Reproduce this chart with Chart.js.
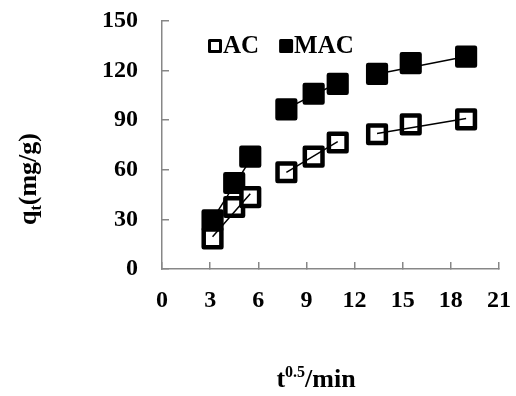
<!DOCTYPE html>
<html>
<head>
<meta charset="utf-8">
<script src="https://cdn.jsdelivr.net/npm/chart.js"></script>
<style>
  body { margin: 0; background: #fff; }
  #wrap { width: 516px; height: 396px; }
</style>
</head>
<body>
<div id="wrap"><canvas id="myChart" width="516" height="396"></canvas></div>
<script>
// data
const timeX = [3.15, 4.5, 5.5, 7.75, 9.45, 10.95, 13.4, 15.5, 18.95];
const acY = [18.5, 37.5, 43.5, 58.5, 68, 76.5, 81.5, 87.5, 90.5];
const macY = [29.5, 52, 68, 96.5, 106, 112, 118, 124.5, 128.5];

// fit line segments (null = break between segments)
const acFitX = [3.15, 5.5, null, 7.75, 10.95, null, 13.4, 18.95];
const acFitY = [19.5, 45.5, null, 58.5, 77, null, 82, 91];
const macFitX = [3.15, 5.5, null, 7.75, 10.95, null, 13.4, 18.95];
const macFitY = [30, 66, null, 97, 112.5, null, 118, 128.5];

const xTicks = [0, 3, 6, 9, 12, 15, 18, 21];
const yTicks = [0, 30, 60, 90, 120, 150];

const serif = "'Times New Roman', 'Liberation Serif', serif";
const axisGray = "#878787";

function toPoints(xs, ys) {
  return xs.map((x, i) => ({ x: x === null ? NaN : x, y: ys[i] }));
}

// legend drawn inside the plot, top-left
const innerLegend = {
  id: "innerLegend",
  afterDatasetsDraw(chart) {
    const ctx = chart.ctx;
    const area = chart.chartArea;
    const items = chart.data.datasets.filter(d => d.showInLegend);
    let x = area.left + 46;
    const y = area.top + 18;
    ctx.save();
    ctx.font = "bold 25px " + serif;
    ctx.textBaseline = "alphabetic";
    ctx.lineJoin = "round";
    items.forEach(d => {
      ctx.fillStyle = d.pointBackgroundColor;
      ctx.strokeStyle = "#000";
      ctx.lineWidth = 3;
      ctx.fillRect(x + 1.5, y + 1.5, 11, 11);
      ctx.strokeRect(x + 1.5, y + 1.5, 11, 11);
      ctx.fillStyle = "#000";
      ctx.fillText(d.label, x + 15, y + 14);
      x += 15 + ctx.measureText(d.label).width + 20;
    });
    ctx.restore();
  }
};

// axis titles with sub/superscript
const axisTitles = {
  id: "axisTitles",
  beforeDatasetsDraw(chart) {
    chart.ctx.lineJoin = "round";
  },
  afterDraw(chart) {
    const ctx = chart.ctx;
    ctx.save();
    ctx.fillStyle = "#000";
    ctx.textBaseline = "alphabetic";

    // x title: t^0.5/min
    const big = "bold 26px " + serif;
    const small = "bold 16px " + serif;
    ctx.font = big;
    const wT = ctx.measureText("t").width;
    const wRest = ctx.measureText("/min").width;
    ctx.font = small;
    const wSup = ctx.measureText("0.5").width;
    let x = 316 - (wT + wSup + wRest) / 2;
    const y = 387;
    ctx.font = big; ctx.fillText("t", x, y); x += wT;
    ctx.font = small; ctx.fillText("0.5", x, y - 10); x += wSup;
    ctx.font = big; ctx.fillText("/min", x, y);

    // y title: q_t(mg/g)
    ctx.translate(36, 179);
    ctx.rotate(-Math.PI / 2);
    ctx.font = big;
    const wq = ctx.measureText("q").width;
    const wr = ctx.measureText("(mg/g)").width;
    ctx.font = small;
    const ws = ctx.measureText("t").width;
    let tx = -(wq + ws + wr) / 2;
    ctx.font = big; ctx.fillText("q", tx, 0); tx += wq;
    ctx.font = small; ctx.fillText("t", tx, 5); tx += ws;
    ctx.font = big; ctx.fillText("(mg/g)", tx, 0);
    ctx.restore();
  }
};

const ctx = document.getElementById("myChart");
const myChart = new Chart(ctx, {
  type: "scatter",
  data: {
    datasets: [
      {
        label: "AC fit",
        data: toPoints(acFitX, acFitY),
        showLine: true,
        spanGaps: false,
        borderColor: "#000",
        borderWidth: 1.5,
        pointRadius: 0
      },
      {
        label: "MAC fit",
        data: toPoints(macFitX, macFitY),
        showLine: true,
        spanGaps: false,
        borderColor: "#000",
        borderWidth: 1.5,
        pointRadius: 0
      },
      {
        label: "AC",
        showInLegend: true,
        data: toPoints(timeX, acY),
        pointStyle: "rect",
        pointRadius: 12.5,
        pointBorderWidth: 4.5,
        pointBorderColor: "#000",
        pointBackgroundColor: "#fff"
      },
      {
        label: "MAC",
        showInLegend: true,
        data: toPoints(timeX, macY),
        pointStyle: "rect",
        pointRadius: 12.5,
        pointBorderWidth: 4.5,
        pointBorderColor: "#000",
        pointBackgroundColor: "#000"
      }
    ]
  },
  options: {
    responsive: false,
    animation: false,
    layout: { padding: { top: 21, right: 13, left: 0, bottom: 0 } },
    plugins: {
      legend: { display: false },
      tooltip: { enabled: false }
    },
    scales: {
      x: {
        type: "linear",
        min: 0,
        max: 21,
        afterBuildTicks: (scale) => { scale.ticks = xTicks.map(v => ({ value: v })); },
        afterFit: (scale) => {
          scale.height = 127;
          scale.paddingLeft = 0;
          scale.paddingRight = 0;
        },
        border: { color: axisGray, width: 1.5 },
        grid: { drawOnChartArea: false, tickLength: -7, color: axisGray, lineWidth: 1.5 },
        ticks: { color: "#000", padding: 24, font: { family: serif, size: 24, weight: "bold" } }
      },
      y: {
        type: "linear",
        min: 0,
        max: 150,
        afterBuildTicks: (scale) => { scale.ticks = yTicks.map(v => ({ value: v })); },
        afterFit: (scale) => {
          scale.width = 162;
          scale.paddingTop = 0;
          scale.paddingBottom = 0;
        },
        border: { color: axisGray, width: 1.5 },
        grid: { drawOnChartArea: false, tickLength: -7, color: axisGray, lineWidth: 1.5 },
        ticks: { color: "#000", padding: 31, font: { family: serif, size: 24, weight: "bold" } }
      }
    }
  },
  plugins: [innerLegend, axisTitles]
});
</script>
</body>
</html>
